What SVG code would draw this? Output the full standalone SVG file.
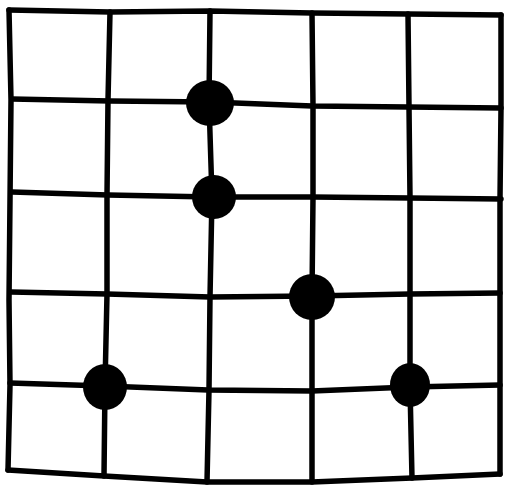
<svg xmlns="http://www.w3.org/2000/svg" width="505" height="485" viewBox="0 0 505 485">
<style>
.ln{fill:none;stroke:#000;stroke-width:5.5;stroke-linecap:round;stroke-linejoin:round}
.dot{fill:#000}
</style>
<rect width="505" height="485" fill="#fff"/>
<g id="grid">
<polyline class="ln" points="9,10 110,12 210,11 312,13 408,14 501,15"/>
<polyline class="ln" points="12,99 110,101 210,102 312,106 408,107 501,108"/>
<polyline class="ln" points="12,192 108,195 212,197 312,197 410,198 501,199"/>
<polyline class="ln" points="11,292 107,294 210,297 312,296 410,294 500,293"/>
<polyline class="ln" points="10,383 105,386 208,390 312,391 410,387 500,385"/>
<polyline class="ln" points="8,470 104,476 207,482 312,482 412,478 500,474"/>
<polyline class="ln" points="9,10 11,100 10,200 9,300 10,385 8,470"/>
<polyline class="ln" points="110,12 108,100 107,195 107,294 105,386 104,476"/>
<polyline class="ln" points="210,11 209,102 212,197 210,297 209,390 207,482"/>
<polyline class="ln" points="312,13 313,106 313,197 312,296 312,391 312,482"/>
<polyline class="ln" points="408,14 409,107 410,198 410,294 410,387 412,478"/>
<polyline class="ln" points="501,15 501,108 500,199 500,293 500,385 500,474"/>
</g>
<g id="dots">
<ellipse class="dot" cx="210" cy="103" rx="24" ry="23"/>
<ellipse class="dot" cx="214" cy="197" rx="22" ry="22"/>
<ellipse class="dot" cx="312" cy="297" rx="23" ry="23"/>
<ellipse class="dot" cx="105" cy="387" rx="22" ry="23"/>
<ellipse class="dot" cx="410" cy="385" rx="20" ry="22"/>
</g>
</svg>
